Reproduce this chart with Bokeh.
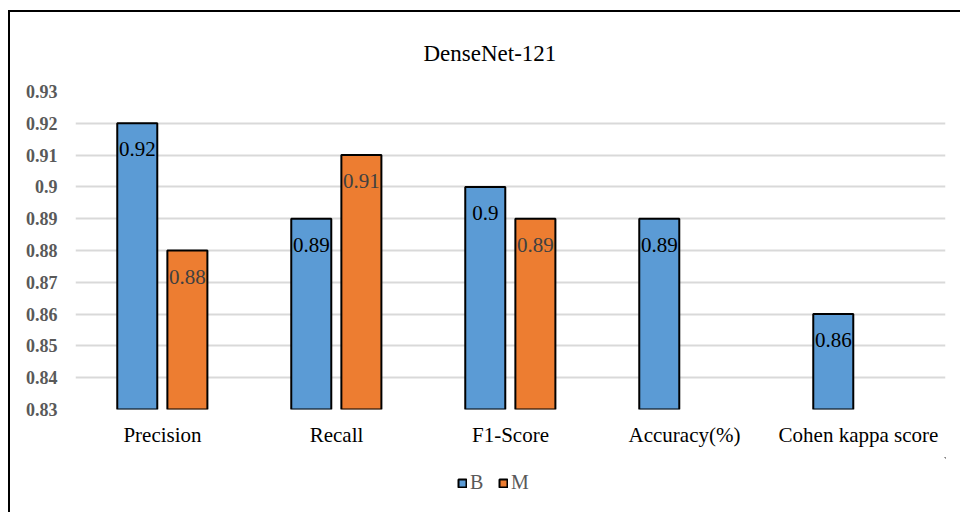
from bokeh.plotting import figure
from bokeh.layouts import column
from bokeh.models import (ColumnDataSource, FactorRange, Range1d, FixedTicker, CustomJSTickFormatter,
                          Legend, LegendItem)
from bokeh.transform import dodge
from bokeh.embed import file_html
from bokeh.resources import INLINE
from bokeh.core.properties import value

# Chart data
metrics = ["Precision", "Recall", "F1-Score", "Accuracy(%)", "Cohen kappa score"]
b_scores = [0.92, 0.89, 0.90, 0.89, 0.86]
m_scores = [0.88, 0.91, 0.89, None, None]
y_ticks = [0.83, 0.84, 0.85, 0.86, 0.87, 0.88, 0.89, 0.90, 0.91, 0.92, 0.93]
series_names = ["B", "M"]
chart_title = "DenseNet-121"

FONT = "'Liberation Serif', 'Times New Roman', serif"
BLUE = "#5b9bd5"
ORANGE = "#ed7d31"

def fmt(v):
    return f"{v:.2f}".rstrip("0") if v is not None else ""

b_src = ColumnDataSource(dict(x=metrics, y=b_scores, lbl=[fmt(v) for v in b_scores]))
m_x = [m for m, v in zip(metrics, m_scores) if v is not None]
m_y = [v for v in m_scores if v is not None]
m_src = ColumnDataSource(dict(x=m_x, y=m_y, lbl=[fmt(v) for v in m_y]))

p = figure(
    x_range=FactorRange(*metrics, range_padding=0),
    y_range=Range1d(0.83, 0.93),
    width=950, height=445,
    output_backend="svg", toolbar_location=None,
    min_border_left=65, min_border_right=15,
    min_border_top=79, min_border_bottom=48,
)
p.outline_line_color = None
p.background_fill_color = "white"
p.border_fill_color = "white"

# title
p.title.text = chart_title
p.title.align = "left"
p.title.offset = 348
p.title.standoff = 51
p.title.text_font = FONT
p.title.text_font_size = "23px"
p.title.text_font_style = "normal"
p.title.text_color = "#000000"

# grid
p.xgrid.grid_line_color = None
p.ygrid.grid_line_color = "#d9d9d9"
p.ygrid.grid_line_width = 2
p.ygrid.ticker = FixedTicker(ticks=y_ticks)

# y axis
p.yaxis.ticker = FixedTicker(ticks=y_ticks)
p.yaxis.formatter = CustomJSTickFormatter(code="return tick.toFixed(2).replace(/0$/, '');")
p.yaxis.axis_line_color = None
p.yaxis.major_tick_line_color = None
p.yaxis.minor_tick_line_color = None
p.yaxis.major_label_text_font = FONT
p.yaxis.major_label_text_font_style = "bold"
p.yaxis.major_label_text_font_size = "18px"
p.yaxis.major_label_text_color = "#595959"
p.yaxis.major_label_standoff = 12

# x axis
p.xaxis.axis_line_color = None
p.xaxis.major_tick_line_color = None
p.xaxis.minor_tick_line_color = None
p.xaxis.major_label_text_font = FONT
p.xaxis.major_label_text_font_size = "21px"
p.xaxis.major_label_text_color = "#000000"
p.xaxis.major_label_standoff = 7

bw = 0.23
p.vbar(x=dodge("x", -0.145, range=p.x_range), top="y", bottom=0.83, width=bw, source=b_src,
       fill_color=BLUE, line_color="black", line_width=2)
p.vbar(x=dodge("x", 0.143, range=p.x_range), top="y", bottom=0.83, width=bw, source=m_src,
       fill_color=ORANGE, line_color="black", line_width=2)

p.text(x=dodge("x", -0.145, range=p.x_range), y="y", text="lbl", source=b_src,
       text_font=value(FONT), text_font_size="21px", text_color="#000000",
       text_align="center", text_baseline="middle", y_offset=26)
p.text(x=dodge("x", 0.143, range=p.x_range), y="y", text="lbl", source=m_src,
       text_font=value(FONT), text_font_size="21px", text_color="#404040",
       text_align="center", text_baseline="middle", y_offset=26)

# legend strip under the chart; the key glyphs sit far outside its visible range
leg = figure(width=950, height=55, x_range=Range1d(0, 1), y_range=Range1d(0, 1),
             x_axis_type=None, y_axis_type=None, output_backend="svg", toolbar_location=None,
             min_border=0)
leg.outline_line_color = None
leg.xgrid.visible = False
leg.ygrid.visible = False
key_b = leg.vbar(x=[100], top=[101], bottom=[100], width=0.1, fill_color=BLUE, line_color="black", line_width=2)
key_m = leg.vbar(x=[100], top=[101], bottom=[100], width=0.1, fill_color=ORANGE, line_color="black", line_width=2)
legend = Legend(items=[LegendItem(label=series_names[0], renderers=[key_b]),
                       LegendItem(label=series_names[1], renderers=[key_m])],
                orientation="horizontal", location=(382, 18),
                label_text_font=FONT, label_text_font_size="20px", label_text_color="#595959",
                glyph_width=10, glyph_height=10, label_standoff=3, spacing=8,
                border_line_color=None, background_fill_alpha=0, padding=0, margin=0)
leg.add_layout(legend, "center")

# outer chart box: left and top edges
layout = column(p, leg, spacing=0)
layout.margin = (10, 0, 0, 8)
layout.styles = {"border-left": "2px solid black", "border-top": "2px solid black"}

open("out.html", "w").write(file_html(layout, INLINE))
